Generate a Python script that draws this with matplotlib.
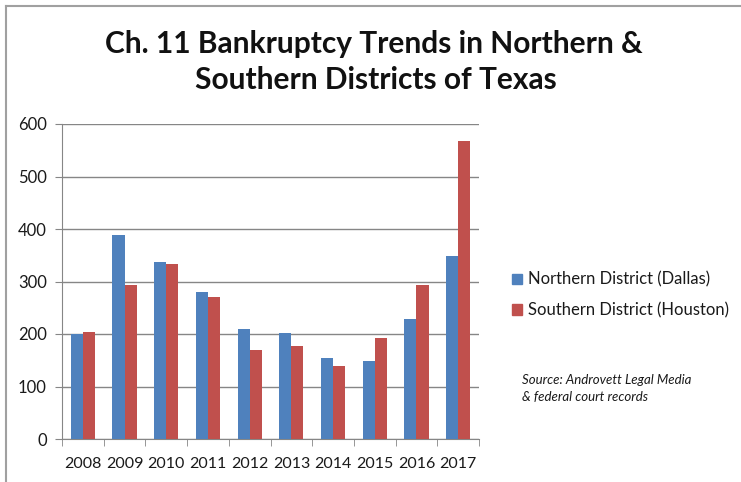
import numpy as np
import matplotlib
matplotlib.use("Agg")
import matplotlib.pyplot as plt
from matplotlib.lines import Line2D

years = ["2008", "2009", "2010", "2011", "2012", "2013", "2014", "2015", "2016", "2017"]
northern = [200, 388, 338, 280, 209, 201, 154, 149, 228, 349]
southern = [204, 293, 333, 270, 170, 177, 140, 193, 293, 567]

blue = "#4F81BD"
red = "#C0504D"
grid_gray = "#868686"

plt.rcParams["font.family"] = ["Lato", "DejaVu Sans"]

W, H = 741, 482
fig = plt.figure(figsize=(W / 100, H / 100), dpi=100)
ax = fig.add_axes([62 / W, (H - 439) / H, (479 - 62) / W, (439 - 124) / H])

x = np.arange(len(years))
bw = 0.29
ax.bar(x - bw / 2, northern, bw, color=blue, label="Northern District (Dallas)", zorder=3)
ax.bar(x + bw / 2, southern, bw, color=red, label="Southern District (Houston)", zorder=3)

ax.set_xlim(-0.5, len(years) - 0.5)
ax.set_ylim(0, 600)
ax.set_yticks(range(0, 601, 100))
ax.yaxis.grid(True, color=grid_gray, linewidth=1, zorder=0)

ax.set_xticks(x)
ax.set_xticklabels(years)
ax.set_xticks(np.arange(-0.5, len(years), 1), minor=True)
ax.tick_params(axis="x", which="major", length=0, pad=13, labelsize=11.5, colors="#1a1a1a")
ax.tick_params(axis="x", which="minor", length=5, color=grid_gray, direction="out")
ax.tick_params(axis="y", length=5, color=grid_gray, labelsize=12, pad=6,
               labelcolor="#1a1a1a")

for s in ["top", "right"]:
    ax.spines[s].set_visible(False)
for s in ["left", "bottom"]:
    ax.spines[s].set_color(grid_gray)

fig.text(374 / W, 1 - 44 / H, "Ch. 11 Bankruptcy Trends in Northern &",
         ha="center", va="center", fontsize=21.5, fontweight="bold", color="#111111")
fig.text(376 / W, 1 - 80 / H, "Southern Districts of Texas",
         ha="center", va="center", fontsize=21.5, fontweight="bold", color="#111111")

handles = [
    plt.Rectangle((0, 0), 1, 1, color=blue),
    plt.Rectangle((0, 0), 1, 1, color=red),
]
leg = fig.legend(handles, ["Northern District (Dallas)", "Southern District (Houston)"],
                 loc="center left", bbox_to_anchor=(497 / W, 1 - 295 / H),
                 frameon=False, fontsize=12, handlelength=0.6, handleheight=0.6,
                 handletextpad=0.35, labelspacing=0.85, labelcolor="#1a1a1a")

fig.text(522 / W, 1 - 380 / H, "Source: Androvett Legal Media",
         fontsize=9.5, style="italic", va="center", color="#1a1a1a")
fig.text(522 / W, 1 - 397 / H, "& federal court records",
         fontsize=9.5, style="italic", va="center", color="#1a1a1a")

# chart border
fig.add_artist(Line2D([5.5 / W, 5.5 / W], [0, 1 - 6 / H], color="#A0A0A0", linewidth=1.5,
                      transform=fig.transFigure))
fig.add_artist(Line2D([5.5 / W, 1], [1 - 6 / H, 1 - 6 / H], color="#A0A0A0", linewidth=1.5,
                      transform=fig.transFigure))

fig.savefig("out.png", dpi=100)
